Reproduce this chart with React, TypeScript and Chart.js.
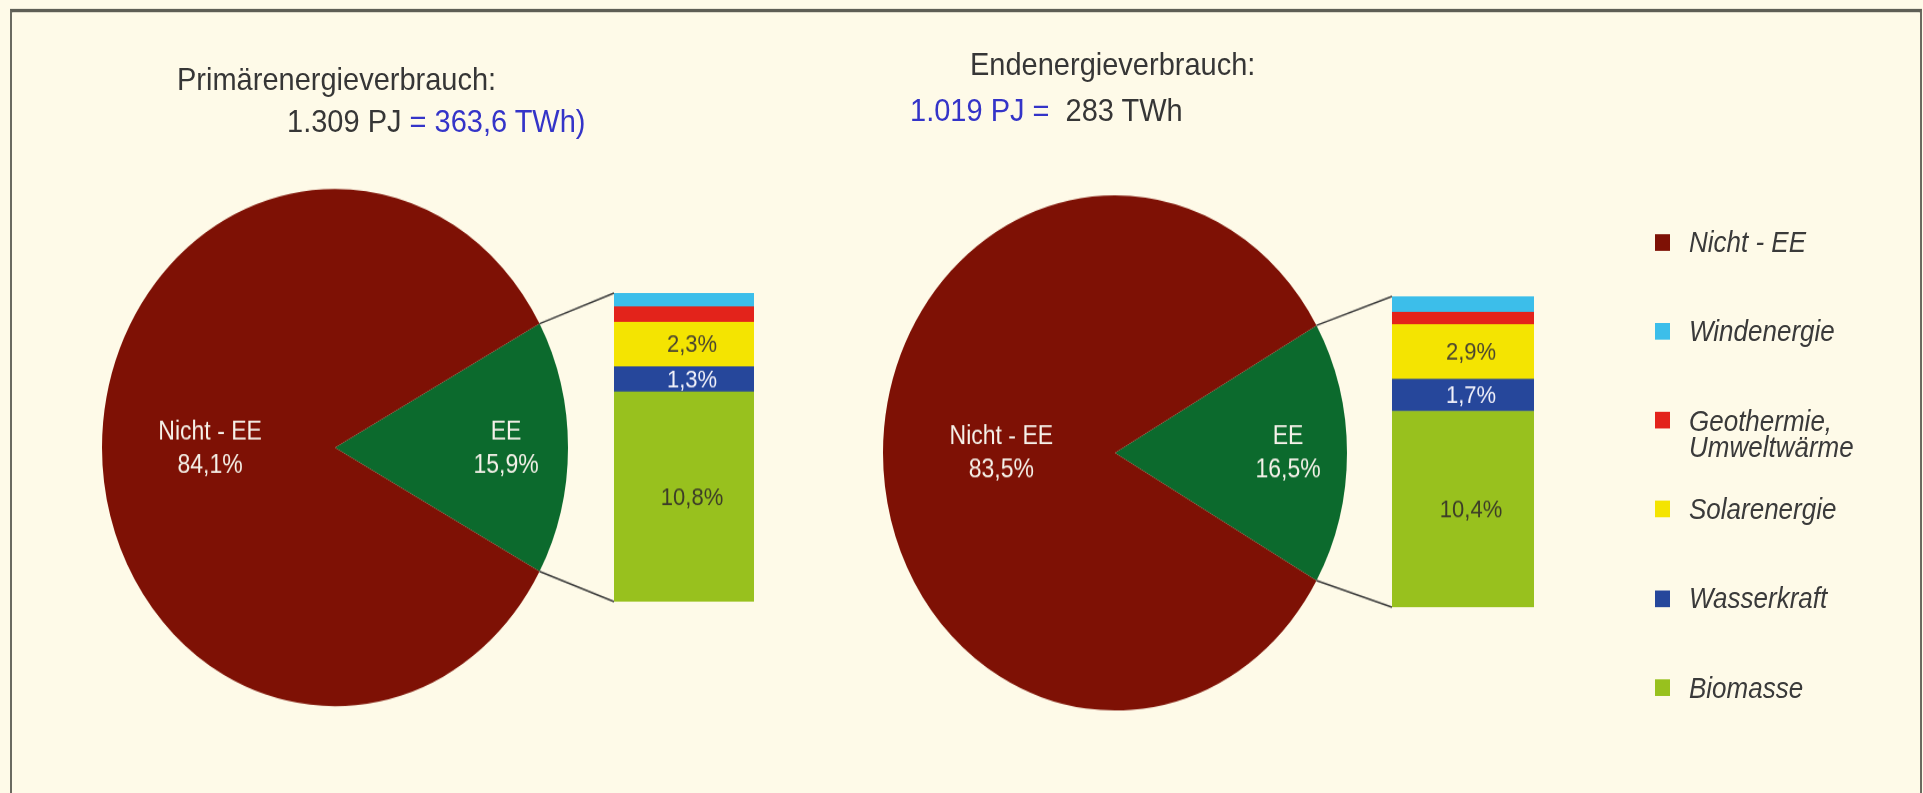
import React, { useEffect, useRef } from 'react';
import { Chart, registerables } from 'chart.js';

Chart.register(...registerables);

// ---------- data ----------
const pieLabels = ['EE', 'Nicht - EE'];
const primaryPie = [15.9, 84.1];
const finalPie = [16.5, 83.5];

// stacked from bottom to top
const eeCategories = ['Biomasse', 'Wasserkraft', 'Solarenergie', 'Geothermie, Umweltwärme', 'Windenergie'];
const primaryEE = [10.8, 1.3, 2.3, 0.8, 0.7];
const finalEE = [10.4, 1.7, 2.9, 0.65, 0.85];
const eeLabelShown = [true, true, true, false, false];

const legendLabels = ['Nicht - EE', 'Windenergie', 'Geothermie,\nUmweltwärme', 'Solarenergie', 'Wasserkraft', 'Biomasse'];

// ---------- styles ----------
const STRETCH = 1.11;
const FONT = "'Liberation Sans', Arial, Helvetica, sans-serif";
const BG = '#FEFAE8';
const C_NICHT = '#7E1105';
const C_EE = '#0C6A2D';
const eeColors = ['#98C11E', '#26479B', '#F4E401', '#E3231B', '#3CBEEA'];
const eeLabelColors = ['#3C3C28', '#F2F2FA', '#4A4530', '#333', '#333'];
const legendColors = [C_NICHT, '#3CBEEA', '#E3231B', '#F4E401', '#26479B', '#98C11E'];

const fmt = (v: number) => v.toFixed(1).replace('.', ',');

type PanelCfg = {
  left: number; w: number; h: number;
  cx: number; cy: number; R: number;
  barLeft: number; barTop: number; barW: number; barH: number;
  labelRadius: number[];
};

const leftCfg: PanelCfg = {
  left: 0, w: 800, h: 714, cx: 335, cy: 403.2, R: 233,
  barLeft: 614, barTop: 264, barW: 140, barH: 278,
  labelRadius: [0.734, 0.536],
};
const rightCfg: PanelCfg = {
  left: 780, w: 800, h: 714, cx: 335, cy: 408.1, R: 232,
  barLeft: 612, barTop: 266.7, barW: 142, barH: 280,
  labelRadius: [0.746, 0.49],
};

function Panel({ cfg, pieData, eeData }: { cfg: PanelCfg; pieData: number[]; eeData: number[] }) {
  const pieRef = useRef<HTMLCanvasElement>(null);
  const barRef = useRef<HTMLCanvasElement>(null);

  useEffect(() => {
    const barCanvas = barRef.current!;
    const pieCanvas = pieRef.current!;

    const barLabelPlugin = {
      id: 'barLabels',
      afterDatasetsDraw(chart: any) {
        const ctx = chart.ctx;
        ctx.save();
        ctx.font = `22px ${FONT}`;
        ctx.textAlign = 'center';
        ctx.textBaseline = 'middle';
        chart.data.datasets.forEach((ds: any, i: number) => {
          if (!eeLabelShown[i]) return;
          const el = chart.getDatasetMeta(i).data[0];
          const p = el.getProps(['x', 'y', 'base'], true);
          ctx.fillStyle = eeLabelColors[i];
          ctx.fillText(fmt(ds.data[0]) + '%', p.x + 8, (p.y + p.base) / 2 + 1);
        });
        ctx.restore();
      },
    };

    const bar = new Chart(barCanvas, {
      type: 'bar',
      data: {
        labels: ['EE'],
        datasets: eeCategories.map((c, i) => ({
          label: c,
          data: [eeData[i]],
          backgroundColor: eeColors[i],
          borderWidth: 0,
          barPercentage: 1,
          categoryPercentage: 1,
          stack: 'ee',
        })),
      },
      options: {
        responsive: false,
        animation: false,
        events: [],
        layout: { padding: 0 },
        scales: {
          x: { display: false, stacked: true },
          y: { display: false, stacked: true, min: 0, max: pieData[0] },
        },
        plugins: { legend: { display: false }, tooltip: { enabled: false } },
      },
      plugins: [barLabelPlugin],
    } as any);

    const piePlugin = {
      id: 'pieExtras',
      afterDatasetsDraw(chart: any) {
        const ctx = chart.ctx;
        const meta = chart.getDatasetMeta(0);
        const ee = meta.data[0].getProps(['x', 'y', 'startAngle', 'endAngle', 'outerRadius'], true);
        // connectors to the EE bar
        const offX = barCanvas.offsetLeft - pieCanvas.offsetLeft;
        const offY = barCanvas.offsetTop - pieCanvas.offsetTop;
        const n = eeCategories.length;
        const topEl = bar.getDatasetMeta(n - 1).data[0] as any;
        const botEl = bar.getDatasetMeta(0).data[0] as any;
        const tp = topEl.getProps(['x', 'y', 'width'], true);
        const bp = botEl.getProps(['x', 'base', 'width'], true);
        const bx = offX + tp.x - tp.width / 2;
        ctx.save();
        ctx.strokeStyle = '#3a3a3a';
        ctx.lineWidth = 1.5;
        ctx.beginPath();
        ctx.moveTo(ee.x + ee.outerRadius * Math.cos(ee.startAngle), ee.y + ee.outerRadius * Math.sin(ee.startAngle));
        ctx.lineTo(bx, offY + tp.y);
        ctx.moveTo(ee.x + ee.outerRadius * Math.cos(ee.endAngle), ee.y + ee.outerRadius * Math.sin(ee.endAngle));
        ctx.lineTo(offX + bp.x - bp.width / 2, offY + bp.base);
        ctx.stroke();
        // slice labels
        ctx.font = `23px ${FONT}`;
        ctx.textAlign = 'center';
        ctx.textBaseline = 'middle';
        ctx.fillStyle = '#F6F2EA';
        meta.data.forEach((arc: any, i: number) => {
          const a = arc.getProps(['x', 'y', 'startAngle', 'endAngle', 'outerRadius'], true);
          const mid = (a.startAngle + a.endAngle) / 2;
          const r = a.outerRadius * cfg.labelRadius[i];
          const lx = a.x + r * Math.cos(mid);
          const ly = a.y + r * Math.sin(mid);
          ctx.fillText(chart.data.labels[i], lx, ly - 14);
          ctx.fillText(fmt(chart.data.datasets[0].data[i]) + '%', lx, ly + 16);
        });
        ctx.restore();
      },
    };

    const total = pieData.reduce((a, b) => a + b, 0);
    const rotation = 90 - (pieData[0] / total) * 360 / 2;

    const pie = new Chart(pieCanvas, {
      type: 'pie',
      data: {
        labels: pieLabels,
        datasets: [{ data: pieData, backgroundColor: [C_EE, C_NICHT], borderWidth: 0 }],
      },
      options: {
        responsive: false,
        animation: false,
        events: [],
        rotation,
        radius: cfg.R,
        layout: {
          padding: {
            left: cfg.cx - cfg.R,
            right: cfg.w - cfg.cx - cfg.R,
            top: cfg.cy - cfg.R,
            bottom: cfg.h - cfg.cy - cfg.R,
          },
        },
        plugins: { legend: { display: false }, tooltip: { enabled: false } },
      },
      plugins: [piePlugin],
    } as any);

    return () => {
      pie.destroy();
      bar.destroy();
    };
  }, []);

  return (
    <div style={{ position: 'absolute', left: cfg.left, top: 0, width: cfg.w, height: cfg.h }}>
      <canvas ref={pieRef} width={cfg.w} height={cfg.h}
        style={{ position: 'absolute', left: 0, top: 0, width: cfg.w, height: cfg.h }} />
      <canvas ref={barRef} width={cfg.barW} height={cfg.barH}
        style={{ position: 'absolute', left: cfg.barLeft, top: cfg.barTop, width: cfg.barW, height: cfg.barH }} />
    </div>
  );
}

const titleStyle = (left: number, top: number): React.CSSProperties => ({
  position: 'absolute', left, top, fontSize: 29, lineHeight: '29px', color: '#363636', whiteSpace: 'pre',
});

export default function App() {
  const legendTop = 218;
  const legendStep = 80.3;
  return (
    <div style={{ position: 'fixed', left: 0, top: 0, width: 1923, height: 793, overflow: 'hidden', background: BG }}>
      <div style={{
        position: 'absolute', left: 0, top: 0, width: 1923, height: 793 / STRETCH,
        transform: `scaleY(${STRETCH})`, transformOrigin: '0 0', fontFamily: FONT,
      }}>
        <div style={{
          position: 'absolute', left: 10, top: 8.2, width: 1908, height: 760,
          borderTop: '3px solid #5E5E55', borderLeft: '2px solid #6A6A60', borderRight: '2px solid #6A6A60',
        }} />

        <div style={titleStyle(177, 56.5)}>Primärenergieverbrauch:</div>
        <div style={titleStyle(287, 95.3)}>
          1.309 PJ <span style={{ color: '#3434C8' }}>= 363,6 TWh)</span>
        </div>
        <div style={titleStyle(970, 43.9)}>Endenergieverbrauch:</div>
        <div style={titleStyle(910, 84.9)}>
          <span style={{ color: '#3434C8' }}>1.019 PJ = </span> 283 TWh
        </div>

        <Panel cfg={leftCfg} pieData={primaryPie} eeData={primaryEE} />
        <Panel cfg={rightCfg} pieData={finalPie} eeData={finalEE} />

        {legendLabels.map((lab, i) => {
          const cy = legendTop + i * legendStep;
          return (
            <React.Fragment key={lab}>
              <div style={{
                position: 'absolute', left: 1655, top: cy - 7.5, width: 15, height: 15, background: legendColors[i],
              }} />
              <div style={{
                position: 'absolute', left: 1689, top: cy - 12, fontSize: 26, lineHeight: '24px',
                fontStyle: 'italic', color: '#3A3A3A', whiteSpace: 'pre',
              }}>{lab}</div>
            </React.Fragment>
          );
        })}
      </div>
    </div>
  );
}
